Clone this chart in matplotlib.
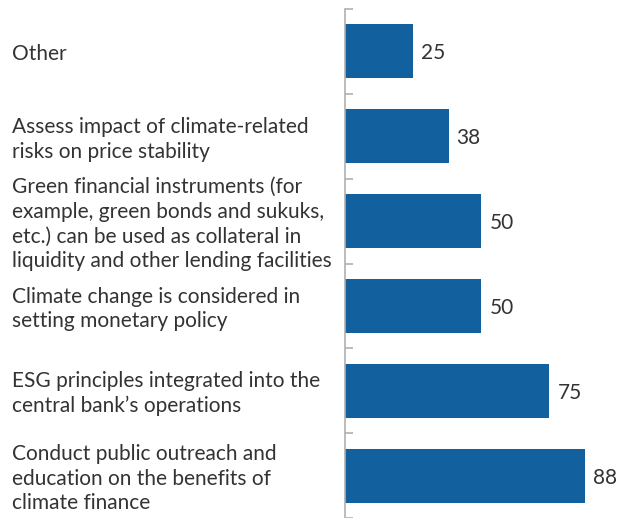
import matplotlib
matplotlib.use("Agg")
import matplotlib.pyplot as plt
import matplotlib.transforms as mtransforms

plt.rcParams["font.family"] = ["Lato", "DejaVu Sans"]

BLUE = "#13609e"
TEXT = "#333333"
GRAY = "#b0b0b0"

labels = [
    "Other",
    "Assess impact of climate-related\nrisks on price stability",
    "Green financial instruments (for\nexample, green bonds and sukuks,\netc.) can be used as collateral in\nliquidity and other lending facilities",
    "Climate change is considered in\nsetting monetary policy",
    "ESG principles integrated into the\ncentral bank\u2019s operations",
    "Conduct public outreach and\neducation on the benefits of\nclimate finance",
]
values = [25, 38, 50, 50, 75, 88]

fig = plt.figure(figsize=(6.27, 5.18), dpi=100)
ax = fig.add_axes([345 / 627, 0.0, 1 - 345 / 627 - 0.015, 1 - 9 / 518])

pos = list(range(len(values)))
ax.barh(pos, values, height=0.635, color=BLUE, zorder=2)
ax.set_xlim(0, 100)
ax.set_ylim(len(values) - 0.5, -0.5)

for p, v in zip(pos, values):
    ax.annotate(f"{v}", xy=(v, p), xytext=(8, -2), textcoords="offset pixels",
                va="center", ha="left", fontsize=15, color=TEXT)

# category labels sit flush left in the figure margin, nudged down a touch
trans = mtransforms.blended_transform_factory(fig.transFigure, ax.transData)
trans = trans + mtransforms.ScaledTranslation(0, -3 / 100, fig.dpi_scale_trans)
for p, lab in zip(pos, labels):
    ax.text(12 / 627, p, lab, transform=trans, ha="left", va="center",
            fontsize=15, color=TEXT, linespacing=1.3)

# category boundary ticks on the left axis
ax.set_yticks([p - 0.5 for p in range(len(values) + 1)])
ax.set_yticklabels([])
ax.tick_params(axis="y", direction="in", length=6, width=1.2, color=GRAY)
ax.set_xticks([])
for s in ["top", "right", "bottom"]:
    ax.spines[s].set_visible(False)
ax.spines["left"].set_color(GRAY)
ax.spines["left"].set_linewidth(1.2)

fig.savefig("out.png", dpi=100, facecolor="white")
